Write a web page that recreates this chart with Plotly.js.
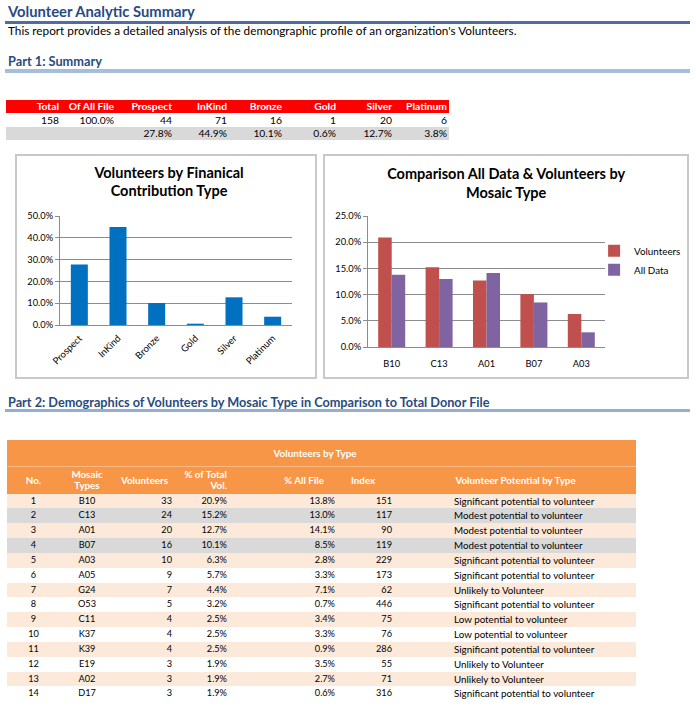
<!DOCTYPE html>
<html>
<head>
<meta charset="utf-8">
<script src="https://cdn.plot.ly/plotly-3.0.1.min.js"></script>
<style>
  html, body { margin:0; padding:0; background:#fff; }
  #page { position:relative; width:696px; height:710px; overflow:hidden; font-family: Lato, "Open Sans", sans-serif; color:#000; }
  .abs { position:absolute; white-space:nowrap; }
  .head { color:#284B7F; font-weight:bold; }
  .box { position:absolute; box-sizing:border-box; border:2px solid #C9C9C9; pointer-events:none; }
  table { border-collapse:collapse; border-spacing:0; table-layout:fixed; position:absolute; }
  td, th { padding:0; margin:0; white-space:nowrap; overflow:visible; }
  #sumTable td, #sumTable th { font-size:10.3px; }
  #sumTable th { background:#FF0000; color:#fff; font-weight:bold; text-align:right; padding-right:2px; height:13px; line-height:13px; }
  #sumTable td { text-align:right; padding-right:2px; }
  #detTable th { background:#F79646; color:#fff; font-weight:bold; font-size:9.8px; }
  #detTable td { font-size:9.2px; height:14.85px; line-height:14.85px; }
  #detTable td.pot { font-size:9.8px; }
</style>
</head>
<body>
<div id="page">
  <div class="abs head" data-w="187" data-base="17.3" style="left:8px;font-size:15px;">Volunteer Analytic Summary</div>
  <div class="abs" style="left:5px;top:21px;width:685px;height:3px;background:#4F6E9F;"></div>
  <div class="abs" data-w="509" data-base="35" style="left:8px;font-size:11px;">This report provides a detailed analysis of the demongraphic profile of an organization's Volunteers.</div>
  <div class="abs head" data-w="94" data-base="66.7" style="left:8px;font-size:12px;">Part 1: Summary</div>
  <div class="abs" style="left:5px;top:69px;width:685px;height:4px;background:#A6BDDC;"></div>

  <table id="sumTable" style="left:6px;top:100px;width:443px;"></table>

  <div id="chart1" class="abs" style="left:15px;top:154px;width:302px;height:225px;"></div>
  <div class="box" style="left:15px;top:154px;width:302px;height:225px;"></div>
  <div id="chart2" class="abs" style="left:323px;top:154px;width:380px;height:225px;"></div>
  <div class="box" style="left:323px;top:154px;width:366px;height:225px;"></div>

  <div class="abs head" data-w="482" data-base="407.7" style="left:8px;font-size:12px;">Part 2: Demographics of Volunteers by Mosaic Type in Comparison to Total Donor File</div>
  <div class="abs" style="left:5px;top:409px;width:685px;height:3px;background:#95AED2;"></div>

  <table id="detTable" style="left:7px;top:440px;width:629px;"></table>
</div>

<script>
// ---------------- DATA ----------------
var totalVolunteers = 158;
var totalShare = '100.0%';
var summaryHeaders = ['Total', 'Of All File', 'Prospect', 'InKind', 'Bronze', 'Gold', 'Silver', 'Platinum'];
var contribTypes = ['Prospect', 'InKind', 'Bronze', 'Gold', 'Silver', 'Platinum'];
var contribCounts = [44, 71, 16, 1, 20, 6];
var contribPct = [27.8, 44.9, 10.1, 0.6, 12.7, 3.8];

var detailTitle = 'Volunteers by Type';
var detailHeaders = ['No.', 'Mosaic<br>Types', 'Volunteers', '% of Total<br>Vol.', '% All File', 'Index', 'Volunteer Potential by Type'];
var rowNo = [1, 2, 3, 4, 5, 6, 7, 8, 9, 10, 11, 12, 13, 14];
var mosaicTypes = ['B10', 'C13', 'A01', 'B07', 'A03', 'A05', 'G24', 'O53', 'C11', 'K37', 'K39', 'E19', 'A02', 'D17'];
var volunteers = [33, 24, 20, 16, 10, 9, 7, 5, 4, 4, 4, 3, 3, 3];
var pctTotalVol = [20.9, 15.2, 12.7, 10.1, 6.3, 5.7, 4.4, 3.2, 2.5, 2.5, 2.5, 1.9, 1.9, 1.9];
var pctAllFile = [13.8, 13.0, 14.1, 8.5, 2.8, 3.3, 7.1, 0.7, 3.4, 3.3, 0.9, 3.5, 2.7, 0.6];
var indexVals = [151, 117, 90, 119, 229, 173, 62, 446, 75, 76, 286, 55, 71, 316];
var potential = [
  'Significant potential to volunteer', 'Modest potential to volunteer', 'Modest potential to volunteer',
  'Modest potential to volunteer', 'Significant potential to volunteer', 'Significant potential to volunteer',
  'Unlikely to Volunteer', 'Significant potential to volunteer', 'Low potential to volunteer',
  'Low potential to volunteer', 'Significant potential to volunteer', 'Unlikely to Volunteer',
  'Unlikely to Volunteer', 'Significant potential to volunteer'
];
var compareCount = 5;   // chart 2 shows the top mosaic types
var seriesNames = ['Volunteers', 'All Data'];

// ---------------- TEXT FIT ----------------
document.querySelectorAll('[data-w]').forEach(function (el) {
  var target = +el.dataset.w;
  var fs = parseFloat(el.style.fontSize);
  el.style.lineHeight = fs + 'px';
  var w = el.getBoundingClientRect().width;
  fs = fs * target / w;
  el.style.fontSize = fs + 'px';
  el.style.lineHeight = fs + 'px';
  el.style.top = (+el.dataset.base - 0.887 * fs) + 'px';
});

function pct(v) { return v.toFixed(1) + '%'; }

// ---------------- SUMMARY TABLE ----------------
(function () {
  var widths = [55, 55, 58, 55, 55, 54, 56, 55];
  var t = document.getElementById('sumTable');
  var cg = '<colgroup>' + widths.map(function (w) { return '<col style="width:' + w + 'px">'; }).join('') + '</colgroup>';
  var h = '<tr>' + summaryHeaders.map(function (s) { return '<th>' + s + '</th>'; }).join('') + '</tr>';
  var r1 = '<tr style="height:14px;line-height:14px;"><td>' + totalVolunteers + '</td><td>' + totalShare + '</td>' +
    contribCounts.map(function (v) { return '<td>' + v + '</td>'; }).join('') + '</tr>';
  var r2 = '<tr style="height:13px;line-height:13px;background:#D9D9D9;"><td></td><td></td>' +
    contribPct.map(function (v) { return '<td>' + pct(v) + '</td>'; }).join('') + '</tr>';
  t.innerHTML = cg + h + r1 + r2;
})();

// ---------------- DETAIL TABLE ----------------
(function () {
  var widths = [53, 54, 61, 55, 108, 57, 241];
  var t = document.getElementById('detTable');
  var cg = '<colgroup>' + widths.map(function (w) { return '<col style="width:' + w + 'px">'; }).join('') + '</colgroup>';
  var h1 = '<tr><th colspan="7" style="height:26px;line-height:26px;text-align:center;padding-right:13px;border-bottom:1px solid rgba(255,255,255,0.35);">' + detailTitle + '</th></tr>';
  var hs = [
    'text-align:center;',
    'text-align:center;',
    'text-align:center;',
    'text-align:right;padding-right:3px;',
    'text-align:right;padding-right:14px;',
    'text-align:left;padding-left:13px;',
    'text-align:center;'
  ];
  var h2 = '<tr style="height:27px;line-height:11px;">' + detailHeaders.map(function (s, i) {
    return '<th style="' + hs[i] + '">' + s + '</th>';
  }).join('') + '</tr>';
  var rows = rowNo.map(function (n, i) {
    var bg = (i % 2 === 0) ? '#FDE9D9' : ((i === 1 || i === 3) ? '#D9D9D9' : '#FFFFFF');
    return '<tr style="background:' + bg + ';">' +
      '<td style="text-align:center;">' + n + '</td>' +
      '<td style="text-align:center;">' + mosaicTypes[i] + '</td>' +
      '<td style="text-align:right;padding-right:3px;">' + volunteers[i] + '</td>' +
      '<td style="text-align:right;padding-right:3px;">' + pct(pctTotalVol[i]) + '</td>' +
      '<td style="text-align:right;padding-right:3px;">' + pct(pctAllFile[i]) + '</td>' +
      '<td style="text-align:right;padding-right:3px;">' + indexVals[i] + '</td>' +
      '<td class="pot" style="text-align:left;padding-left:59px;">' + potential[i] + '</td></tr>';
  }).join('');
  t.innerHTML = cg + h1 + h2 + rows;
})();

// ---------------- CHARTS ----------------
var FONT = 'Lato, "Open Sans", sans-serif';
var GRID = '#8C8C8C';
var cfg = { displayModeBar: false, staticPlot: true };

Plotly.newPlot('chart1', [{
  type: 'bar', x: contribTypes, y: contribPct, marker: { color: '#0070C0' }
}], {
  width: 302, height: 225,
  margin: { l: 45, r: 25, t: 62, b: 54 },
  paper_bgcolor: 'rgba(0,0,0,0)', plot_bgcolor: 'rgba(0,0,0,0)',
  title: {
    text: '<b>Volunteers by Finanical<br>Contribution Type</b>',
    font: { family: FONT, size: 14.5, color: '#000' },
    x: 0.51, xref: 'container', xanchor: 'center',
    y: 0.895, yref: 'container', yanchor: 'middle'
  },
  bargap: 0.56,
  showlegend: false,
  xaxis: {
    tickangle: -45, tickfont: { family: FONT, size: 9.5, color: '#000' },
    showline: true, linecolor: GRID, linewidth: 1, ticks: '', showgrid: false,
    ticklabelstandoff: 3
  },
  yaxis: {
    range: [0, 50], dtick: 10, tickformat: '.1f', ticksuffix: '%',
    showgrid: true, gridcolor: GRID, gridwidth: 1, zeroline: false,
    showline: true, linecolor: GRID, ticks: 'outside', ticklen: 4, tickcolor: GRID,
    tickfont: { family: FONT, size: 9.3, color: '#000' }
  }
}, cfg);

Plotly.newPlot('chart2', [
  { type: 'bar', name: seriesNames[0], x: mosaicTypes.slice(0, compareCount), y: pctTotalVol.slice(0, compareCount), marker: { color: '#C0504D' } },
  { type: 'bar', name: seriesNames[1], x: mosaicTypes.slice(0, compareCount), y: pctAllFile.slice(0, compareCount), marker: { color: '#8064A2' } }
], {
  width: 380, height: 225,
  margin: { l: 45, r: 98, t: 62, b: 32 },
  paper_bgcolor: 'rgba(0,0,0,0)', plot_bgcolor: 'rgba(0,0,0,0)',
  title: {
    text: '<b>Comparison All Data &amp; Volunteers by<br>Mosaic Type</b>',
    font: { family: FONT, size: 14.5, color: '#000' },
    x: 0.482, xref: 'container', xanchor: 'center',
    y: 0.89, yref: 'container', yanchor: 'middle'
  },
  barmode: 'group', bargap: 0.43, bargroupgap: 0,
  showlegend: true,
  legend: {
    x: 0.954, xanchor: 'left', y: 0.845, yanchor: 'top',
    font: { family: FONT, size: 9.8, color: '#000' },
    bgcolor: 'rgba(0,0,0,0)', tracegroupgap: 0
  },
  xaxis: {
    tickfont: { family: FONT, size: 9.3, color: '#000' },
    showline: true, linecolor: GRID, linewidth: 1, ticks: '', showgrid: false,
    ticklabelstandoff: 8
  },
  yaxis: {
    range: [0, 25], dtick: 5, tickformat: '.1f', ticksuffix: '%',
    showgrid: true, gridcolor: GRID, gridwidth: 1, zeroline: false,
    showline: true, linecolor: GRID, ticks: 'outside', ticklen: 4, tickcolor: GRID,
    tickfont: { family: FONT, size: 9.3, color: '#000' }
  }
}, cfg);
</script>
</body>
</html>
